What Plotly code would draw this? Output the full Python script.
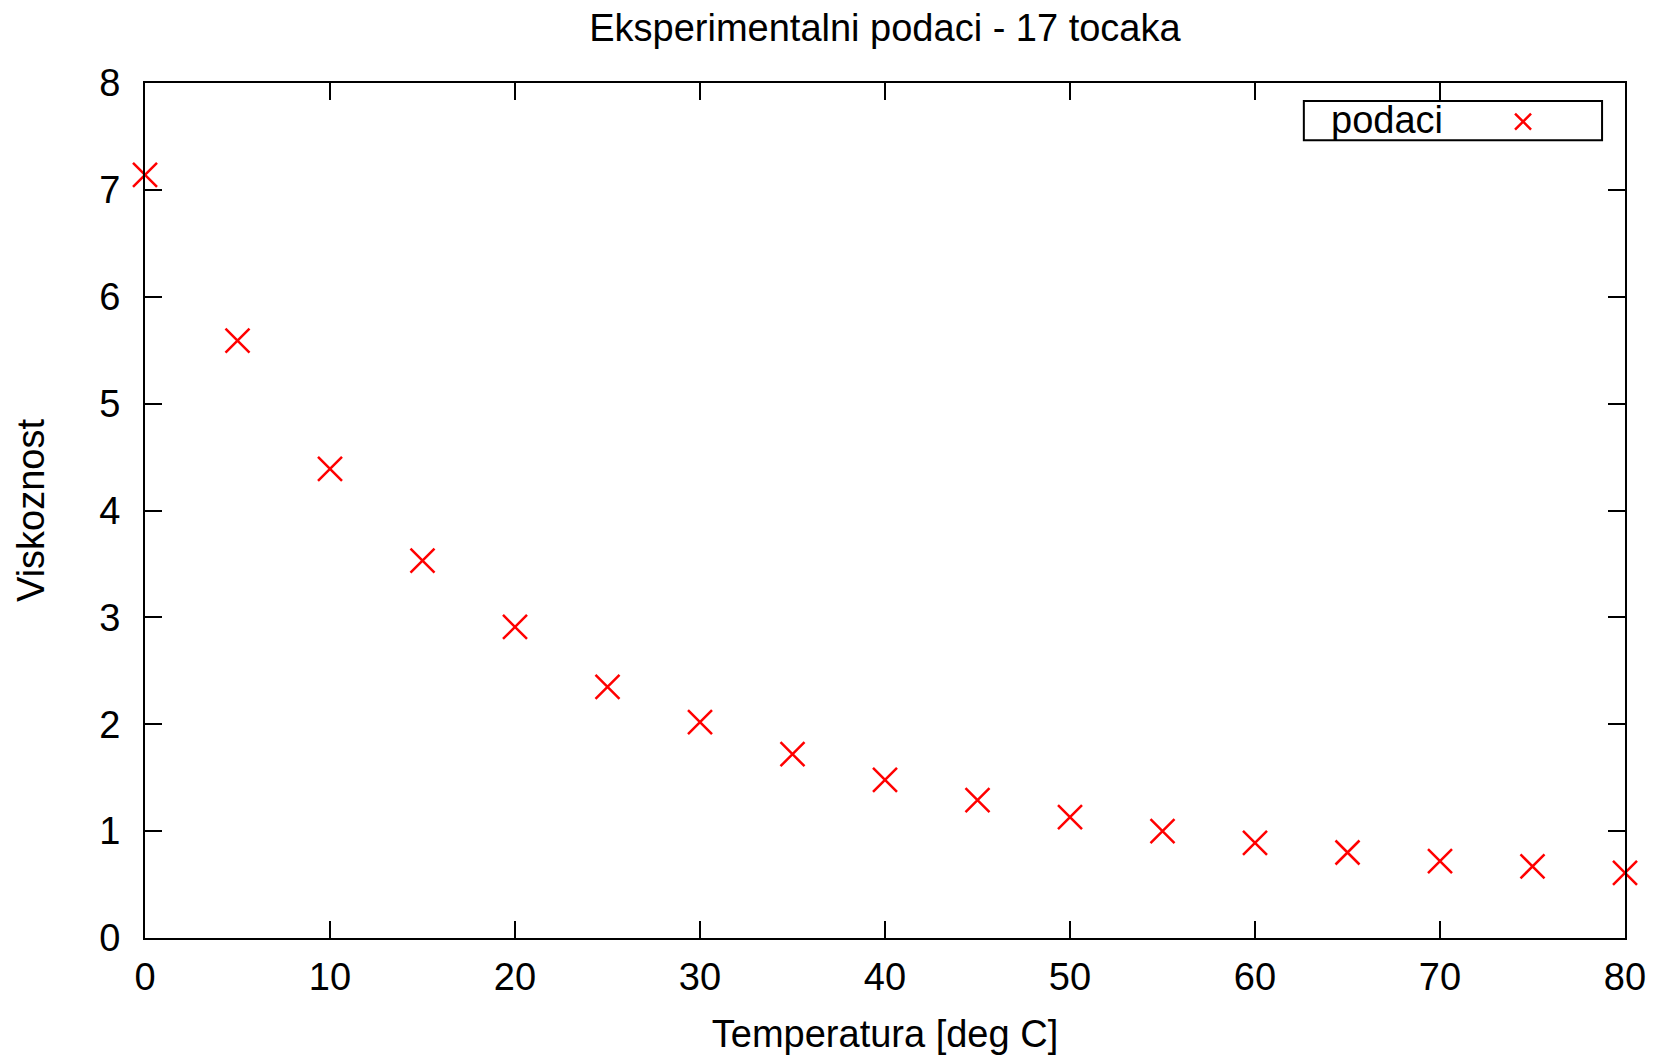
import plotly.graph_objects as go

temperature = [0, 5, 10, 15, 20, 25, 30, 35, 40, 45, 50, 55, 60, 65, 70, 75, 80]
viscosity = [7.14, 5.59, 4.39, 3.53, 2.91, 2.35, 2.02, 1.72, 1.48, 1.29, 1.13, 1.00, 0.89, 0.80, 0.72, 0.67, 0.61]
x_ticks = [0, 10, 20, 30, 40, 50, 60, 70, 80]
y_ticks = [0, 1, 2, 3, 4, 5, 6, 7, 8]
legend_label = "podaci"

FONT = "Liberation Sans, Arial, sans-serif"
FS = 38

fig = go.Figure()
fig.add_trace(go.Scatter(
    x=temperature, y=viscosity, mode="markers", name=" ",
    marker=dict(symbol="x-thin", size=24, color="#ff0000",
                line=dict(color="#ff0000", width=2.5)),
    cliponaxis=False,
))

axis_common = dict(
    showgrid=False, zeroline=False, showline=True, linecolor="black", linewidth=2,
    mirror="ticks", ticks="inside", ticklen=17, tickwidth=2, tickcolor="black",
    tickfont=dict(family=FONT, size=FS, color="black"),
)

# legend frame and label (gnuplot style: text left, sample right)
fig.add_shape(type="rect", xref="x domain", yref="y domain",
              x0=0.783, x1=0.9845, y0=0.933, y1=0.979,
              line=dict(color="black", width=2), fillcolor="white", layer="above")
fig.add_annotation(text=legend_label, xref="x domain", yref="y domain",
                   x=0.800, y=0.957, xanchor="left", yanchor="middle",
                   showarrow=False, font=dict(family=FONT, size=FS, color="black"))

fig.update_layout(
    width=1664, height=1059,
    paper_bgcolor="white", plot_bgcolor="white",
    margin=dict(l=137, r=47, t=75, b=129, autoexpand=False),
    title=dict(text="Eksperimentalni podaci - 17 tocaka", x=0.527, xanchor="center",
               y=0.981, yanchor="middle",
               font=dict(family=FONT, size=FS, color="black")),
    xaxis=dict(range=[0, 80], tickvals=x_ticks, ticklabelstandoff=4,
               title=dict(text="Temperatura [deg C]", standoff=24,
                          font=dict(family=FONT, size=FS, color="black")),
               **axis_common),
    yaxis=dict(range=[0, 8], tickvals=y_ticks, ticklabelstandoff=15,
               title=dict(text="Viskoznost", standoff=43,
                          font=dict(family=FONT, size=FS, color="black")),
               **axis_common),
    showlegend=True,
    legend=dict(
        orientation="h", x=0.9176, xanchor="left", y=0.9545, yanchor="middle",
        borderwidth=0, bgcolor="rgba(0,0,0,0)",
        font=dict(family=FONT, size=FS, color="black"),
        itemwidth=30, valign="middle",
    ),
)

fig.write_html("out.html")
